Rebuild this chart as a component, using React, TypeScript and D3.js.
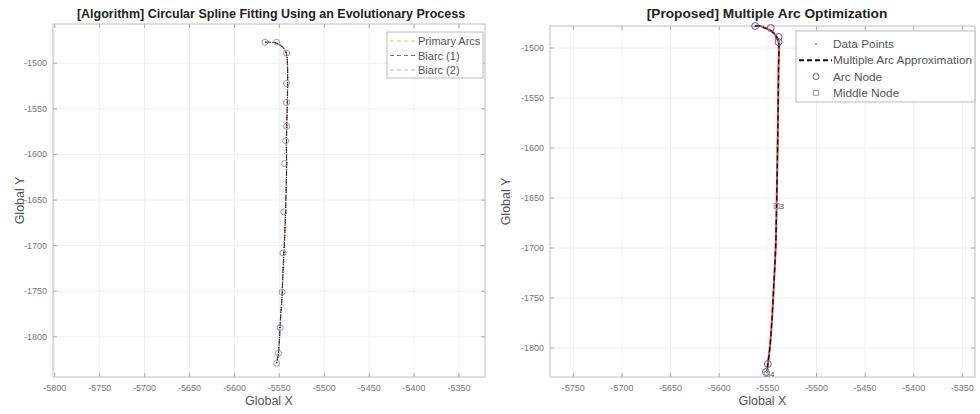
import { useEffect, useRef } from "react";
import * as d3 from "d3";

// left panel: path traced by the evolutionary spline fit
const leftPathX = [-5566, -5560, -5553, -5548, -5544, -5542, -5541, -5541, -5542, -5542, -5543, -5544, -5545, -5546, -5547, -5549, -5550, -5551, -5553];
const leftPathY = [-1477, -1477, -1478, -1481, -1485, -1490, -1500, -1540, -1580, -1620, -1660, -1690, -1710, -1730, -1755, -1785, -1805, -1818, -1829];
const leftNodeX = [-5566, -5553, -5542, -5542, -5542, -5542, -5543, -5544, -5545, -5546, -5547, -5549, -5551, -5553];
const leftNodeY = [-1477, -1477, -1489, -1522, -1543, -1569, -1585, -1610, -1663, -1708, -1751, -1790, -1818, -1829];

// right panel: data points, arc approximation, nodes
const rightPathX = [-5563, -5558, -5553, -5548, -5544, -5541, -5539, -5539, -5540, -5541, -5542, -5544, -5546, -5548, -5550, -5551];
const rightPathY = [-1478, -1478, -1480, -1482, -1485, -1489, -1494, -1520, -1600, -1658, -1700, -1740, -1775, -1800, -1816, -1824];
const arcNodeX = [-5563, -5547, -5539, -5539, -5550, -5552];
const arcNodeY = [-1478, -1480, -1489, -1494, -1816, -1824];
const midNodeX = [-5541, -5551];
const midNodeY = [-1658, -1826];
const midNodeLabel = ["3", "4"];

const leftXTicks = [-5800, -5750, -5700, -5650, -5600, -5550, -5500, -5450, -5400, -5350];
const rightXTicks = [-5750, -5700, -5650, -5600, -5550, -5500, -5450, -5400, -5350];
const yTicks = [-1800, -1750, -1700, -1650, -1600, -1550, -1500];

const leftLegend = ["Primary Arcs", "Biarc (1)", "Biarc (2)"];
const rightLegend = ["Data Points", "Multiple Arc Approximation", "Arc Node", "Middle Node"];

const FONT = "'Liberation Sans', Arial, sans-serif";

export default function App() {
  const svgRef = useRef(null);

  useEffect(() => {
    const svg = d3.select(svgRef.current);
    svg.selectAll("*").remove();

    const drawAxes = (x, y, xTicks, title, titleX, titleSize, yLabelX) => {
      const [x0, x1] = x.range();
      const [y0, y1] = y.range();
      const g = svg.append("g");
      g.append("rect").attr("x", x0).attr("y", y1).attr("width", x1 - x0).attr("height", y0 - y1).attr("fill", "white");
      xTicks.forEach((t) => {
        g.append("line").attr("x1", x(t)).attr("x2", x(t)).attr("y1", y1).attr("y2", y0).attr("stroke", "#f0f0f0");
        g.append("line").attr("x1", x(t)).attr("x2", x(t)).attr("y1", y0).attr("y2", y0 - 4).attr("stroke", "#aaa");
        g.append("line").attr("x1", x(t)).attr("x2", x(t)).attr("y1", y1).attr("y2", y1 + 4).attr("stroke", "#aaa");
        g.append("text").attr("x", x(t)).attr("y", y0 + 14).attr("text-anchor", "middle")
          .style("font-size", "9px").attr("fill", "#777").text(t);
      });
      yTicks.forEach((t) => {
        g.append("line").attr("x1", x0).attr("x2", x1).attr("y1", y(t)).attr("y2", y(t)).attr("stroke", "#f0f0f0");
        g.append("line").attr("x1", x0).attr("x2", x0 + 4).attr("y1", y(t)).attr("y2", y(t)).attr("stroke", "#aaa");
        g.append("line").attr("x1", x1).attr("x2", x1 - 4).attr("y1", y(t)).attr("y2", y(t)).attr("stroke", "#aaa");
        g.append("text").attr("x", x0 - 6).attr("y", y(t) + 3).attr("text-anchor", "end")
          .style("font-size", "9px").attr("fill", "#777").text(t);
      });
      g.append("rect").attr("x", x0).attr("y", y1).attr("width", x1 - x0).attr("height", y0 - y1)
        .attr("fill", "none").attr("stroke", "#bdbdbd");
      svg.append("text").attr("x", titleX).attr("y", 18).attr("text-anchor", "middle")
        .style("font-size", titleSize).style("font-weight", "bold").attr("fill", "#222").text(title);
      svg.append("text").attr("x", (x0 + x1) / 2).attr("y", y0 + 28).attr("text-anchor", "middle")
        .style("font-size", "12.5px").attr("fill", "#555").text("Global X");
      svg.append("text").attr("transform", `translate(${yLabelX},${(y0 + y1) / 2}) rotate(-90)`)
        .attr("text-anchor", "middle").style("font-size", "12.5px").attr("fill", "#555").text("Global Y");
    };

    // left panel
    const xL = d3.scaleLinear().domain([-5802, -5321]).range([53, 485]);
    const yL = d3.scaleLinear().domain([-1844, -1457]).range([377, 24]);
    drawAxes(xL, yL, leftXTicks, "[Algorithm] Circular Spline Fitting Using an Evolutionary Process", 271, "12.5px", 24);

    const leftPts = leftPathX.map((v, i) => [v, leftPathY[i]]);
    const lineL = d3.line().x((d) => xL(d[0])).y((d) => yL(d[1])).curve(d3.curveCatmullRom);
    svg.append("path").attr("d", lineL(leftPts)).attr("fill", "none").attr("stroke", "#f0b48c")
      .attr("stroke-width", 1).attr("stroke-dasharray", "4,3");
    svg.append("path").attr("d", lineL(leftPts)).attr("fill", "none").attr("stroke", "#555")
      .attr("stroke-width", 1.2).attr("stroke-dasharray", "5,3");
    svg.append("path").attr("d", lineL(leftPts)).attr("fill", "none").attr("stroke", "#111")
      .attr("stroke-width", 1.2).attr("stroke-dasharray", "1,1.5");
    svg.append("g").selectAll("circle").data(leftNodeX).enter().append("circle")
      .attr("cx", (d) => xL(d)).attr("cy", (d, i) => yL(leftNodeY[i])).attr("r", 3)
      .attr("fill", "none").attr("stroke", (d, i) => (i === 11 ? "#8a8fc9" : "#999")).attr("stroke-width", 1);

    // left legend
    const lgL = svg.append("g").attr("transform", "translate(387,32)");
    lgL.append("rect").attr("width", 96).attr("height", 46).attr("fill", "white").attr("stroke", "#bbb");
    const lColors = ["#f0b48c", "#777", "#bbb"];
    leftLegend.forEach((s, i) => {
      const yy = 9 + i * 14.5;
      lgL.append("line").attr("x1", 3).attr("x2", 30).attr("y1", yy).attr("y2", yy)
        .attr("stroke", lColors[i]).attr("stroke-width", 1).attr("stroke-dasharray", "4,3");
      lgL.append("text").attr("x", 31).attr("y", yy + 4).style("font-size", "11px").attr("fill", "#555").text(s);
    });

    // right panel
    const xR = d3.scaleLinear().domain([-5774, -5337]).range([550, 975]);
    const yR = d3.scaleLinear().domain([-1829, -1478]).range([377, 26]);
    drawAxes(xR, yR, rightXTicks, "[Proposed] Multiple Arc Optimization", 767, "13.7px", 510);

    const rightPts = rightPathX.map((v, i) => [v, rightPathY[i]]);
    const lineR = d3.line().x((d) => xR(d[0])).y((d) => yR(d[1])).curve(d3.curveCatmullRom);
    svg.append("path").attr("d", lineR(rightPts)).attr("fill", "none").attr("stroke", "#e8453c").attr("stroke-width", 2);
    svg.append("g").selectAll("circle").data(rightPts).enter().append("circle")
      .attr("cx", (d) => xR(d[0])).attr("cy", (d) => yR(d[1])).attr("r", 1).attr("fill", "#e8453c");
    svg.append("path").attr("d", lineR(rightPts)).attr("fill", "none").attr("stroke", "#111")
      .attr("stroke-width", 1.4).attr("stroke-dasharray", "5,3");
    svg.append("g").selectAll("circle").data(arcNodeX).enter().append("circle")
      .attr("cx", (d) => xR(d)).attr("cy", (d, i) => yR(arcNodeY[i])).attr("r", 3.5)
      .attr("fill", "none").attr("stroke", "#5a5fa8").attr("stroke-width", 1);
    midNodeX.forEach((v, i) => {
      svg.append("rect").attr("x", xR(v) - 2.5).attr("y", yR(midNodeY[i]) - 2.5).attr("width", 5).attr("height", 5)
        .attr("fill", "none").attr("stroke", "#999");
      svg.append("text").attr("x", xR(v) + 3).attr("y", yR(midNodeY[i]) + 3).style("font-size", "8px")
        .attr("fill", "#444").text(midNodeLabel[i]);
    });

    // right legend
    const lgR = svg.append("g").attr("transform", "translate(796,31)");
    lgR.append("rect").attr("width", 179).attr("height", 71).attr("fill", "white").attr("stroke", "#bbb");
    rightLegend.forEach((s, i) => {
      const yy = 13 + i * 16.3;
      if (i === 0) lgR.append("circle").attr("cx", 20).attr("cy", yy).attr("r", 1).attr("fill", "#888");
      if (i === 1) lgR.append("line").attr("x1", 3).attr("x2", 36).attr("y1", yy).attr("y2", yy)
        .attr("stroke", "#111").attr("stroke-width", 2).attr("stroke-dasharray", "5,3");
      if (i === 2) lgR.append("circle").attr("cx", 20).attr("cy", yy).attr("r", 3).attr("fill", "none").attr("stroke", "#5a5fa8");
      if (i === 3) lgR.append("rect").attr("x", 17.5).attr("y", yy - 2.5).attr("width", 5).attr("height", 5)
        .attr("fill", "none").attr("stroke", "#aaa");
      lgR.append("text").attr("x", 37).attr("y", yy + 4).style("font-size", "11.8px").attr("fill", "#555").text(s);
    });
  }, []);

  return (
    <svg ref={svgRef} width={980} height={414}
      style={{ position: "absolute", left: 0, top: 0, background: "white", fontFamily: FONT }}></svg>
  );
}
